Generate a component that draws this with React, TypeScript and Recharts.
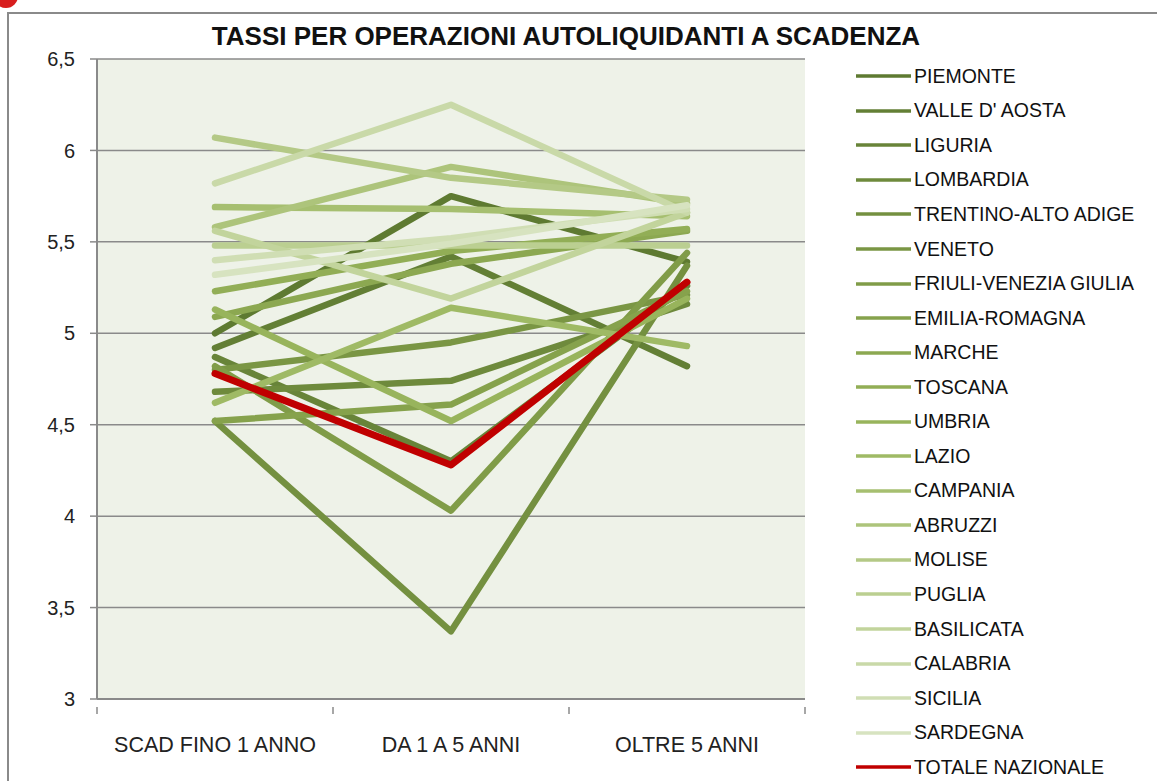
import { LineChart, Line, XAxis, YAxis, CartesianGrid, Legend } from "recharts"

const categories = ["SCAD FINO 1 ANNO", "DA 1 A 5 ANNI", "OLTRE 5 ANNI"]
const yTicks = [3, 3.5, 4, 4.5, 5, 5.5, 6, 6.5]

const regions = [
  "PIEMONTE", "VALLE D' AOSTA", "LIGURIA", "LOMBARDIA", "TRENTINO-ALTO ADIGE",
  "VENETO", "FRIULI-VENEZIA GIULIA", "EMILIA-ROMAGNA", "MARCHE", "TOSCANA",
  "UMBRIA", "LAZIO", "CAMPANIA", "ABRUZZI", "MOLISE",
  "PUGLIA", "BASILICATA", "CALABRIA", "SICILIA", "SARDEGNA",
]

const piemonte = [5.0, 5.75, 5.39]
const valleAosta = [4.92, 5.42, 4.82]
const liguria = [4.87, 4.3, 5.26]
const lombardia = [4.68, 4.74, 5.16]
const trentino = [4.52, 3.37, 5.37]
const veneto = [4.8, 4.95, 5.21]
const friuli = [4.82, 4.03, 5.44]
const emilia = [4.52, 4.61, 5.23]
const marche = [5.09, 5.38, 5.56]
const toscana = [5.23, 5.45, 5.57]
const umbria = [5.13, 4.52, 5.19]
const lazio = [4.62, 5.14, 4.93]
const campania = [5.69, 5.68, 5.64]
const abruzzi = [5.58, 5.91, 5.71]
const molise = [6.07, 5.85, 5.73]
const puglia = [5.48, 5.48, 5.48]
const basilicata = [5.56, 5.19, 5.66]
const calabria = [5.82, 6.25, 5.66]
const sicilia = [5.4, 5.52, 5.68]
const sardegna = [5.32, 5.49, 5.7]
const totale = [4.78, 4.28, 5.28]

const regionValues = [
  piemonte, valleAosta, liguria, lombardia, trentino,
  veneto, friuli, emilia, marche, toscana,
  umbria, lazio, campania, abruzzi, molise,
  puglia, basilicata, calabria, sicilia, sardegna,
]

const colors = [
  "#5e7a31", "#637f35", "#688439", "#6e8a3c", "#749040",
  "#7a9644", "#809c48", "#86a24c", "#8ca851", "#92ae56",
  "#98b45c", "#9fba65", "#a6bf70", "#adc47b", "#b4c986",
  "#bbcf91", "#c2d49c", "#c9d9a8", "#d0deb4", "#d7e3c0",
]

const TOTALE = "TOTALE NAZIONALE"
const legendOrder = [...regions, TOTALE]

const data = categories.map((cat, i) => {
  const row: Record<string, string | number> = { name: cat }
  regions.forEach((r, j) => {
    row[r] = regionValues[j][i]
  })
  row[TOTALE] = totale[i]
  return row
})

const FONT = "'Liberation Sans', Arial, sans-serif"
const W = 1157
const H = 781
const LEGEND_W = 300
// right margin leaves room for the legend (recharts adds the legend width itself)
const M = { top: 59, right: 352 - LEGEND_W, bottom: 0, left: 0 }
const Y_W = 97
const X_H = 82
const bandW = (805 - Y_W) / categories.length

function XTick(props: any) {
  const { x, y, payload, index } = props
  return (
    <g>
      <line x1={x - bandW / 2} y1={y} x2={x - bandW / 2} y2={y + 7} stroke="#8a8a8a" strokeWidth={1.5} />
      {index === categories.length - 1 && (
        <line x1={x + bandW / 2} y1={y} x2={x + bandW / 2} y2={y + 7} stroke="#8a8a8a" strokeWidth={1.5} />
      )}
      <text x={x} y={y + 45} textAnchor="middle" fontSize={21.5} fill="#222" fontFamily={FONT}>
        {payload.value}
      </text>
    </g>
  )
}

function LegendBox(props: any) {
  const items = [...(props.payload || [])].sort(
    (a: any, b: any) => legendOrder.indexOf(a.value) - legendOrder.indexOf(b.value)
  )
  return (
    <div style={{ fontFamily: FONT }}>
      {items.map((p: any) => (
        <div key={p.value} style={{ height: 34.55, display: "flex", alignItems: "center" }}>
          <svg width={58} height={10} style={{ flex: "none" }}>
            <line x1={0} y1={5} x2={55} y2={5} stroke={p.color} strokeWidth={3.5} />
          </svg>
          <span style={{ fontSize: 19.5, color: "#111", whiteSpace: "nowrap" }}>{p.value}</span>
        </div>
      ))}
    </div>
  )
}

export default function App() {
  return (
    <div style={{ position: "absolute", left: 0, top: 0, width: W, height: H, overflow: "hidden", background: "#fff" }}>
      <div style={{ position: "absolute", left: -6, top: -16, width: 24, height: 24, borderRadius: 12, background: "#d81e1e" }} />
      <div style={{ position: "absolute", left: 7, top: 12, width: W + 20, height: H + 20, border: "2px solid #8a8a8a" }} />
      <div
        style={{
          position: "absolute", left: 0, top: 21, width: 1132, textAlign: "center",
          fontFamily: FONT, fontWeight: "bold", fontSize: 26, color: "#111",
        }}
      >
        TASSI PER OPERAZIONI AUTOLIQUIDANTI A SCADENZA
      </div>
      <LineChart width={W} height={H} data={data} margin={M} style={{ position: "absolute", left: 0, top: 0 }}>
        <CartesianGrid vertical={false} fill="#eef2e8" stroke="#8a8a8a" strokeWidth={1.5} />
        <XAxis
          dataKey="name"
          scale="band"
          height={X_H}
          axisLine={{ stroke: "#8a8a8a", strokeWidth: 2 }}
          tickLine={false}
          tick={<XTick />}
          interval={0}
        />
        <YAxis
          domain={[3, 6.5]}
          ticks={yTicks}
          width={Y_W}
          axisLine={{ stroke: "#8a8a8a", strokeWidth: 2 }}
          tickLine={{ stroke: "#8a8a8a", strokeWidth: 1.5 }}
          tickSize={7}
          tickMargin={15}
          tickFormatter={(v: number) => String(v).replace(".", ",")}
          tick={{ fontSize: 20, fill: "#222", fontFamily: FONT }}
        />
        <Legend
          layout="vertical"
          verticalAlign="top"
          align="right"
          wrapperStyle={{ left: 856, top: 59, width: LEGEND_W }}
          content={<LegendBox />}
        />
        {regions.map((r, j) => (
          <Line
            key={r}
            type="linear"
            dataKey={r}
            stroke={colors[j]}
            strokeWidth={6.5}
            strokeLinecap="round"
            strokeLinejoin="round"
            dot={false}
            activeDot={false}
            isAnimationActive={false}
          />
        ))}
        <Line
          type="linear"
          dataKey={TOTALE}
          stroke="#c00000"
          strokeWidth={7}
          strokeLinecap="round"
          strokeLinejoin="round"
          dot={false}
          activeDot={false}
          isAnimationActive={false}
        />
      </LineChart>
    </div>
  )
}
